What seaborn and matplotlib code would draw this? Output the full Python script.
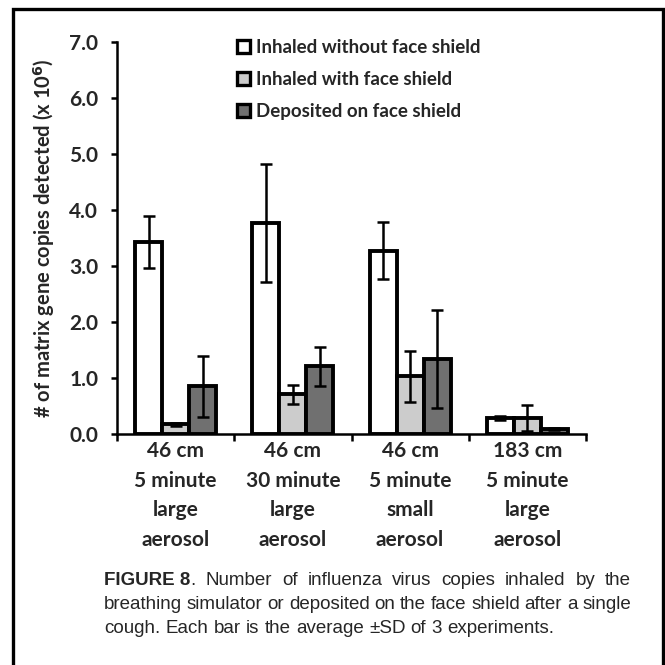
import matplotlib
matplotlib.use("Agg")
import matplotlib.pyplot as plt
from matplotlib.patches import Patch, Rectangle
import seaborn as sns
import pandas as pd
import numpy as np

# ====== Data ======
CONDITIONS = ["46 cm\n5 minute\nlarge\naerosol",
              "46 cm\n30 minute\nlarge\naerosol",
              "46 cm\n5 minute\nsmall\naerosol",
              "183 cm\n5 minute\nlarge\naerosol"]
SERIES = ["Inhaled without face shield",
          "Inhaled with face shield",
          "Deposited on face shield"]
COLORS = ["#ffffff", "#cccccc", "#707070"]

no_shield_mean = [3.43, 3.77, 3.27, 0.29]
no_shield_sd = [0.47, 1.05, 0.51, 0.04]
with_shield_mean = [0.17, 0.71, 1.03, 0.29]
with_shield_sd = [0.02, 0.17, 0.46, 0.23]
deposited_mean = [0.85, 1.21, 1.34, 0.09]
deposited_sd = [0.55, 0.35, 0.88, 0.02]

MEANS = [no_shield_mean, with_shield_mean, deposited_mean]
SDS = [no_shield_sd, with_shield_sd, deposited_sd]

CAPTION = [
    [("FIGURE 8", "bold"), (".", "normal"), ("Number of influenza virus copies inhaled by the", "normal")],
    [("breathing simulator or deposited on the face shield after a single", "normal")],
    [("cough. Each bar is the average \u00b1SD of 3 experiments.", "normal")],
]

# ====== Build long table ======
rows = []
for s, means in zip(SERIES, MEANS):
    for c, m in zip(CONDITIONS, means):
        rows.append({"condition": c, "series": s, "value": m})
df = pd.DataFrame(rows)

sns.set_theme(style="white")
plt.rcParams["font.family"] = ["Lato", "DejaVu Sans"]

W = H = 665
fig = plt.figure(figsize=(6.65, 6.65), dpi=100)
ax = fig.add_axes([117 / W, 1 - 434 / H, (586 - 117) / W, (434 - 42) / H])

sns.barplot(data=df, x="condition", y="value", hue="series",
            palette=COLORS, width=0.69, errorbar=None,
            edgecolor="black", linewidth=2.8, legend=False, ax=ax)

# error bars from the bar centres
for cont, sd in zip(ax.containers, SDS):
    xs = [p.get_x() + p.get_width() / 2 for p in cont.patches]
    ys = [p.get_height() for p in cont.patches]
    ax.errorbar(xs, ys, yerr=sd, fmt="none", ecolor="black",
                elinewidth=1.8, capsize=4, capthick=1.8, zorder=5)

# ====== Axes styling ======
ax.set_xlim(-0.5, 3.5)
ax.set_ylim(0, 7)
ax.set_yticks(np.arange(0, 7.5, 1.0))
ax.set_yticklabels([f"{v:.1f}" for v in np.arange(0, 7.5, 1.0)],
                   fontsize=15, fontweight="bold")
ax.set_xticks(range(len(CONDITIONS)))
ax.set_xticklabels(CONDITIONS, fontsize=15, fontweight="bold", linespacing=1.6)
ax.set_xticks(np.arange(-0.5, 4.0, 1.0), minor=True)
ax.tick_params(axis="x", which="major", length=0, pad=5)
ax.tick_params(axis="x", which="minor", length=5, width=1.8, direction="out",
               color="black", bottom=True)
ax.tick_params(axis="y", length=4.5, width=1.8, direction="out", color="black",
               left=True, pad=9)
ax.set_xlabel("")
ax.set_ylabel("# of matrix gene copies detected (x 10$^{\\mathbf{6}}$)",
              fontsize=14.5, fontweight="bold")
ax.yaxis.set_label_coords(-0.128, 0.5)
for side in ["top", "right"]:
    ax.spines[side].set_visible(False)
for side in ["left", "bottom"]:
    ax.spines[side].set_color("black")
    ax.spines[side].set_linewidth(1.8)

handles = [Patch(facecolor=c, edgecolor="black", linewidth=2.4) for c in COLORS]
ax.legend(handles, SERIES, loc="upper left", bbox_to_anchor=(237 / W, 1 - 39 / H),
          bbox_transform=fig.transFigure, frameon=False, prop={"weight": "bold", "size": 13.5},
          handlelength=0.7, handleheight=0.7, handletextpad=0.3, labelspacing=0.8,
          borderpad=0, borderaxespad=0)

# ====== Frame ======
fig.patches.append(Rectangle((13 / W, -0.1), (663 - 13) / W, 1.1 - 8.5 / H,
                             transform=fig.transFigure, fill=False,
                             edgecolor="black", linewidth=2.4))

# ====== Justified caption ======
fig.canvas.draw()
renderer = fig.canvas.get_renderer()
x0, x1 = 104 / W, 631 / W
baselines = [585, 609, 633]
cap_font = dict(family=["Liberation Sans", "DejaVu Sans"], size=13.5, va="baseline")


def measure(t):
    bb = t.get_window_extent(renderer=renderer)
    return bb.width / W


def word_width(s):
    t = fig.text(0.5, 0.5, s, **cap_font)
    w = measure(t)
    t.remove()
    return w


space = word_width("a a") - 2 * word_width("a")

for li, (line, base) in enumerate(zip(CAPTION, baselines)):
    y = 1 - base / H
    tokens = []
    for text, weight in line:
        if text == ".":
            tokens.append((text, weight, True))
        else:
            for w in (text.split(" ") if weight == "normal" else [text]):
                tokens.append((w, weight, False))
    texts = [fig.text(0, y, w, fontweight=wt, **cap_font) for w, wt, _ in tokens]
    widths = [measure(t) for t in texts]
    glued = [g for _, _, g in tokens]
    n_gaps = sum(1 for g in glued[1:] if not g)
    if li < len(CAPTION) - 1:
        gap = (x1 - x0 - sum(widths)) / n_gaps
    else:
        gap = space
    x = x0
    for i, (t, w) in enumerate(zip(texts, widths)):
        if i > 0 and not glued[i]:
            x += gap
        t.set_x(x)
        x += w

fig.savefig("out.png", dpi=100)
